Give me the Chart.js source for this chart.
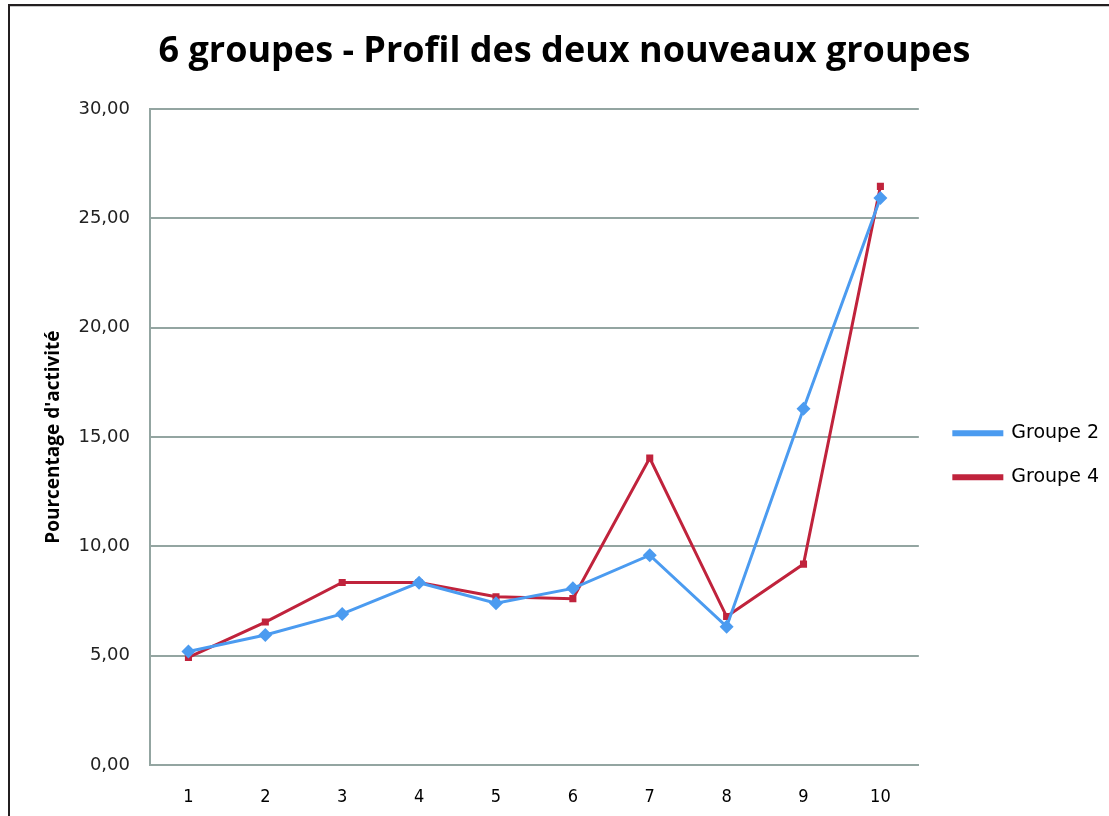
<!DOCTYPE html>
<html>
<head>
<meta charset="utf-8">
<script src="https://cdn.jsdelivr.net/npm/chart.js@4/dist/chart.umd.min.js"></script>
<style>
  body { margin: 0; background: #fff; }
  #wrap { position: relative; width: 1109px; height: 816px; overflow: hidden; }
  #chart1 { position: absolute; left: 0; top: 0; }
  .frameTop { position: absolute; left: 8px; top: 4px; width: 1101px; height: 2px; background: #231f20; }
  .frameTop2 { position: absolute; left: 10px; top: 6px; width: 1099px; height: 1px; background: #c8c8c8; }
  .frameLeft { position: absolute; left: 8px; top: 4px; width: 2px; height: 812px; background: #231f20; }
</style>
</head>
<body>
<div id="wrap">
  <canvas id="chart1" width="1109" height="816"></canvas>
  <div class="frameTop"></div>
  <div class="frameTop2"></div>
  <div class="frameLeft"></div>
</div>
<script>
  var categories = ['1', '2', '3', '4', '5', '6', '7', '8', '9', '10'];
  var groupe2 = [5.19, 5.95, 6.91, 8.34, 7.40, 8.08, 9.60, 6.33, 16.30, 25.94];
  var groupe4 = [4.92, 6.54, 8.35, 8.35, 7.70, 7.61, 14.04, 6.79, 9.19, 26.47];
  var yTickLabels = ['0,00', '5,00', '10,00', '15,00', '20,00', '25,00', '30,00'];

  var gridColor = '#93a5a1';

  var ctx1 = document.getElementById('chart1').getContext('2d');
  var chart1 = new Chart(ctx1, {
    type: 'line',
    data: {
      labels: categories,
      datasets: [{
        label: 'Groupe 2',
        data: groupe2,
        borderColor: '#4b9bf0',
        backgroundColor: '#4b9bf0',
        borderWidth: 3,
        pointStyle: 'rectRot',
        pointRadius: 7,
        pointBorderWidth: 0,
        tension: 0
      }, {
        label: 'Groupe 4',
        data: groupe4,
        borderColor: '#c0233c',
        backgroundColor: '#c0233c',
        borderWidth: 3,
        pointStyle: 'rect',
        pointRadius: 5,
        pointBorderWidth: 0,
        tension: 0
      }]
    },
    options: {
      responsive: false,
      animation: false,
      layout: {
        padding: { left: 20, right: 0, top: 0, bottom: 0 }
      },
      plugins: {
        title: {
          display: true,
          text: '6 groupes - Profil des deux nouveaux groupes',
          color: '#000',
          font: { family: 'Open Sans', size: 36, weight: 'bold' },
          padding: { top: 30, bottom: 36 }
        },
        legend: {
          position: 'right',
          title: {
            display: true,
            text: ' ',
            font: { size: 2 },
            padding: { top: 92, bottom: 0 }
          },
          labels: {
            boxWidth: 48,
            boxHeight: 3,
            padding: 25,
            color: '#000',
            font: { family: 'DejaVu Sans', size: 19 }
          }
        },
        tooltip: { enabled: false }
      },
      scales: {
        x: {
          offset: true,
          grid: { display: false, drawTicks: false },
          border: { display: true, color: gridColor, width: 2 },
          ticks: {
            color: '#000',
            padding: 22,
            font: { family: 'DejaVu Sans Condensed', size: 18 }
          },
          afterFit: function (scale) { scale.height = 51; }
        },
        y: {
          min: 0,
          max: 30,
          grid: { color: gridColor, lineWidth: 2, drawTicks: false },
          border: { display: true, color: gridColor, width: 2 },
          ticks: {
            stepSize: 5,
            color: '#222',
            padding: 20,
            font: { family: 'DejaVu Sans', size: 18 },
            callback: function (value, index) { return yTickLabels[index]; }
          },
          title: {
            display: true,
            text: "Pourcentage d'activité",
            color: '#000',
            font: { family: 'Open Sans', size: 19, weight: 'bold' },
            padding: { top: 22, bottom: 0 }
          },
          afterFit: function (scale) { scale.width = 130; }
        },
        gap: {
          position: 'right',
          display: true,
          grid: { display: false, drawTicks: false },
          border: { display: false },
          ticks: { display: false },
          afterFit: function (scale) { scale.width = 10; }
        }
      }
    }
  });
</script>
</body>
</html>
